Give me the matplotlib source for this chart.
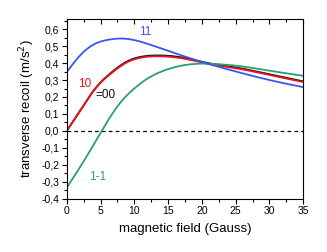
import numpy as np
import matplotlib
matplotlib.use("Agg")
import matplotlib.pyplot as plt
from matplotlib.ticker import MultipleLocator, FuncFormatter

plt.rcParams['font.family'] = ['Liberation Sans', 'DejaVu Sans']

# values (field in Gauss, recoil in m/s^2)
field_11 = [0, 2, 4, 6.5, 8, 10.4, 12.4, 15.9, 20.9, 24.4, 30, 35]
recoil_11 = [0.347, 0.446, 0.51, 0.54, 0.545, 0.532, 0.508, 0.46, 0.396, 0.357, 0.30, 0.258]

field_10 = [0, 2, 4, 6.5, 9, 11.4, 13.9, 17.4, 20.9, 24.4, 30, 35]
recoil_10 = [0.0, 0.12, 0.238, 0.337, 0.406, 0.435, 0.44, 0.426, 0.396, 0.374, 0.33, 0.288]
recoil_00 = [0.0, 0.12, 0.239, 0.341, 0.411, 0.440, 0.445, 0.431, 0.400, 0.378, 0.334, 0.292]

field_1m1 = [0, 2.5, 5.1, 8, 10, 12, 14, 17, 20, 23, 25, 30, 35]
recoil_1m1 = [-0.335, -0.18, -0.005, 0.17, 0.25, 0.31, 0.35, 0.385, 0.397, 0.392, 0.385, 0.355, 0.325]

labels = ['11', '10', '=00', '1-1']
label_pos = [(11.6, 0.583), (2.7, 0.278), (5.7, 0.209), (4.5, -0.27)]

c_blue = '#3a55f2'
c_red = '#e8161b'
c_green = '#2e9c78'
c_black = '#111111'


def spline(xs, ys, n=300):
    # natural cubic spline through the read points
    x = np.asarray(xs, float)
    y = np.asarray(ys, float)
    m = len(x)
    h = np.diff(x)
    A = np.zeros((m, m))
    b = np.zeros(m)
    A[0, 0] = A[-1, -1] = 1
    for i in range(1, m - 1):
        A[i, i - 1] = h[i - 1]
        A[i, i] = 2 * (h[i - 1] + h[i])
        A[i, i + 1] = h[i]
        b[i] = 6 * ((y[i + 1] - y[i]) / h[i] - (y[i] - y[i - 1]) / h[i - 1])
    M = np.linalg.solve(A, b)
    xx = np.linspace(x[0], x[-1], n)
    idx = np.clip(np.searchsorted(x, xx) - 1, 0, m - 2)
    x0, x1, hh = x[idx], x[idx + 1], h[idx]
    t0, t1 = x1 - xx, xx - x0
    yy = (M[idx] * t0 ** 3 + M[idx + 1] * t1 ** 3) / (6 * hh) \
        + (y[idx] / hh - M[idx] * hh / 6) * t0 + (y[idx + 1] / hh - M[idx + 1] * hh / 6) * t1
    return xx, yy


fig = plt.figure(figsize=(3.27, 2.52), dpi=100)
ax = fig.add_axes([0.204, 0.2115, 0.7235, 0.713])

ax.axhline(0, color='black', lw=0.9, ls=(0, (3, 2.5)))

x, y = spline(field_10, recoil_00)
ax.plot(x, y, color=c_black, lw=1.3)
x, y = spline(field_10, recoil_10)
ax.plot(x, y, color=c_red, lw=1.3)
x, y = spline(field_1m1, recoil_1m1)
ax.plot(x, y, color=c_green, lw=1.3)
x, y = spline(field_11, recoil_11)
ax.plot(x, y, color=c_blue, lw=1.3)

for txt, (lx, ly), col in zip(labels, label_pos, [c_blue, c_red, c_black, c_green]):
    ax.text(lx, ly, txt, color=col, fontsize=8.5, ha='center', va='center')

ax.set_xlim(0, 35)
ax.set_ylim(-0.4, 0.66)
ax.xaxis.set_major_locator(MultipleLocator(5))
ax.xaxis.set_minor_locator(MultipleLocator(2.5))
ax.yaxis.set_major_locator(MultipleLocator(0.1))
ax.yaxis.set_minor_locator(MultipleLocator(0.05))
ax.yaxis.set_major_formatter(FuncFormatter(lambda v, p: ('%.1f' % v).replace('.', ',').replace('-0,0', '0,0')))

ax.tick_params(axis='both', which='both', labelsize=7.5, width=0.8, colors='black')
ax.tick_params(axis='both', which='major', length=3.5, pad=2)
ax.tick_params(axis='both', which='minor', length=2)
ax.tick_params(axis='x', which='both', top=True, direction='out')
for t in ax.xaxis.get_ticklines(minor=False)[1::2] + ax.xaxis.get_ticklines(minor=True)[1::2]:
    t.set_marker(3)  # top ticks point into the plot
for s in ax.spines.values():
    s.set_linewidth(0.8)

ax.set_xlabel('magnetic field (Gauss)', fontsize=9.5, labelpad=5)
ax.set_ylabel('transverse recoil (m/s$^2$)', fontsize=9.5, labelpad=3)

fig.savefig('out.png', dpi=100)
